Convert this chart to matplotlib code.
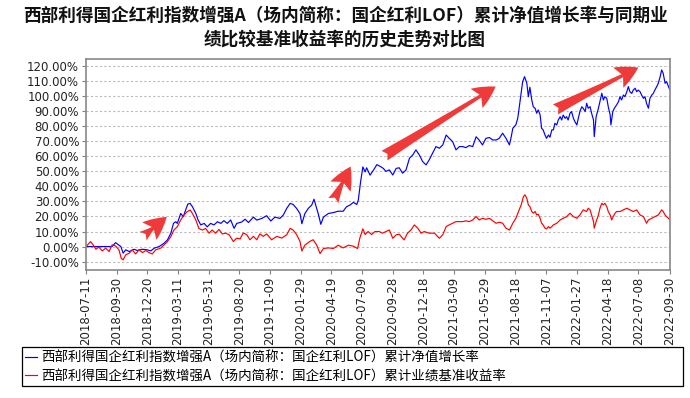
import datetime as dt
import matplotlib
matplotlib.use("Agg")
import matplotlib.pyplot as plt
import matplotlib.dates as mdates
from matplotlib.patches import FancyArrowPatch

plt.rcParams['font.family'] = ['Noto Sans CJK SC', 'DejaVu Sans']

title_1 = "西部利得国企红利指数增强A（场内简称：国企红利LOF）累计净值增长率与同期业"
title_2 = "绩比较基准收益率的历史走势对比图"
nav_label = "西部利得国企红利指数增强A（场内简称：国企红利LOF）累计净值增长率"
bench_label = "西部利得国企红利指数增强A（场内简称：国企红利LOF）累计业绩基准收益率"

start = dt.date(2018, 7, 11)

# days since 2018-07-11, value in %
nav_days = [0, 69, 78, 92, 98, 105, 114, 127, 135, 149, 162, 171, 180, 193, 206, 215, 224, 231, 237, 241,
            250, 257, 263, 269, 275, 281, 290, 296, 303, 312, 320, 329, 338, 347, 356, 364, 373, 382, 391, 398,
            411, 420, 429, 442, 451, 464, 477, 488, 499, 512, 521, 530, 539, 547, 556, 565, 570, 578, 587, 596,
            602, 609, 613, 620, 627, 640, 653, 666, 679, 688, 697, 706, 715, 719, 725, 731, 737, 741, 750, 759,
            768, 779, 785, 792, 801, 810, 819, 827, 836, 845, 854, 863, 871, 880, 889, 898, 906, 915, 924, 933,
            942, 951, 959, 968, 977, 986, 995, 1003, 1012, 1021, 1030, 1038, 1047, 1056, 1065, 1074, 1083, 1091,
            1100, 1109, 1118, 1122, 1127, 1135, 1140, 1146, 1153, 1158, 1164, 1168, 1172, 1177, 1181, 1186, 1190,
            1194, 1199, 1203, 1207, 1212, 1216, 1221, 1225, 1230, 1234, 1238, 1243, 1247, 1252, 1256, 1260, 1265,
            1269, 1273, 1278, 1282, 1287, 1291, 1296, 1300, 1304, 1309, 1313, 1318, 1322, 1326, 1331, 1335, 1340,
            1342, 1347, 1353, 1357, 1362, 1366, 1370, 1375, 1379, 1384, 1386, 1391, 1395, 1401, 1406, 1410, 1414,
            1419, 1423, 1428, 1432, 1436, 1441, 1445, 1450, 1454, 1458, 1463, 1467, 1472, 1476, 1480, 1485, 1489,
            1494, 1498, 1502, 1507, 1511, 1516, 1520, 1524, 1529, 1533, 1538, 1542]
nav_vals = [0, 0, 2.6, 0, -4.4, -2.2, -3.3, -1.8, -2.6, -1.8, -2.2, -2.9, -1.1, 0, 2.2, 4.4, 8.9, 15.4, 16.5, 15.4,
            22, 19.9, 24.3, 28.3, 28.7, 26.5, 22, 17.7, 14.4, 15.4, 13.1, 15.4, 14.4, 16.5, 15.4, 17.2, 15.4, 17.7, 12.1, 15.4,
            16.3, 18.2, 16, 19.6, 17.6, 18.7, 20.5, 17, 19.6, 18.7, 21, 25.4, 28.7, 28, 25.4, 22, 15.2, 22, 25.4, 27.6,
            31.5, 25.4, 22, 14.8, 19.6, 22, 22.6, 23.5, 23.5, 26.5, 27.6, 29.4, 28, 30.9, 43, 53, 49.7, 52.4, 47.5, 50.8,
            54.5, 53, 52, 50, 51, 47.6, 52, 52.4, 48.8, 51, 58.7, 61, 64.3, 61, 56.5, 54.3, 57.6, 62, 66.5, 65.4,
            67.6, 74.2, 72, 69.8, 64.3, 66.5, 66.5, 65.8, 67.2, 66.5, 73, 70.9, 67.6, 72, 72.5, 70.9, 70.9, 72,
            75.4, 72, 67.6, 72, 78.7, 81, 85.3, 96.4, 109.7, 113, 108.6, 99.7, 106, 97.5, 93, 91.9, 88.7,
            90.9, 87.6, 78.7, 77.6, 74.2, 72, 74.2, 72.7, 77.6, 77.6, 82, 80.9, 84.2, 86.4, 84.2, 87.5, 85.3,
            86.4, 84.2, 88.7, 89.8, 85.3, 83.1, 80.9, 85.3, 89.8, 93, 91.9, 89.8, 95.3, 92, 93, 88.7, 84.2,
            73.1, 86.4, 92, 96.4, 102, 97.5, 99.7, 98.6, 93, 87.6, 80.9, 89.8, 92, 94.2, 96.4, 99.7, 97.5,
            100.8, 99.7, 103, 106.4, 103, 101.9, 104.1, 105.3, 103, 104.1, 103, 100.8, 98.6, 99.7, 95.3, 92, 98.6,
            100.8, 101.9, 104.1, 106.4, 108.6, 113, 117.5, 115.2, 108.6, 109.7, 106.4, 104]

bench_days = [0, 12, 19, 26, 34, 43, 52, 61, 69, 78, 87, 93, 98, 105, 114, 122, 131, 140, 149, 158,
              166, 175, 184, 197, 206, 215, 224, 232, 241, 250, 259, 267, 275, 281, 290, 298, 307, 316, 325, 333,
              342, 351, 360, 369, 378, 389, 398, 407, 415, 424, 433, 442, 451, 459, 468, 477, 490, 504, 517, 530,
              539, 547, 556, 565, 570, 578, 591, 600, 609, 618, 627, 640, 653, 666, 679, 693, 706, 717, 723, 731,
              737, 745, 754, 763, 774, 783, 792, 801, 810, 819, 827, 840, 849, 858, 867, 876, 885, 893, 906, 920,
              933, 942, 951, 959, 968, 977, 986, 995, 1003, 1012, 1021, 1030, 1038, 1047, 1056, 1065, 1074, 1083,
              1091, 1100, 1109, 1118, 1127, 1135, 1142, 1149, 1155, 1159, 1164, 1168, 1172, 1177, 1181, 1186, 1190,
              1194, 1199, 1203, 1207, 1212, 1216, 1221, 1225, 1230, 1234, 1243, 1252, 1260, 1269, 1278, 1287, 1296,
              1304, 1313, 1322, 1326, 1331, 1335, 1340, 1342, 1347, 1353, 1357, 1362, 1366, 1370, 1375, 1379, 1384,
              1388, 1392, 1397, 1401, 1410, 1419, 1428, 1436, 1445, 1454, 1463, 1472, 1480, 1485, 1494, 1502, 1511,
              1520, 1524, 1529, 1533, 1538, 1542]
bench_vals = [0, 3.3, 1.1, -1.8, -0.4, -2.9, -1.1, -3.3, 1.1, 0.4, -2.2, -7.8, -8.9, -5.5, -4.4, -2.2, -4.9, -2.2, -4, -2.7,
              -4, -4.9, -2.2, -1.1, 1.1, 3.3, 6.6, 11, 13.1, 17.7, 21, 23.2, 24.3, 22, 17.7, 12, 11, 12, 8.9, 11,
              8.9, 11.4, 8.4, 8.9, 7.8, 3.4, 5.6, 5.1, 9, 8, 4.5, 6.8, 4.5, 8.4, 6.8, 8.4, 4.5, 6.8, 5.6, 7.9,
              12.1, 11, 8, 3.4, -3, 1, 3.4, 4.5, 1, -4.7, -1.3, -0.9, -1.3, 0.9, -0.9, 0.9, 0.2, -1.3, 5.6, 11.8,
              8, 10, 8, 10, 10, 8.9, 10, 11, 5.5, 7.8, 8.2, 4.4, 8.9, 11, 14.4, 12.2, 8.9, 10, 8.9, 8.9,
              5.5, 7.8, 13.3, 14.4, 15.5, 16.6, 16.6, 16.6, 17.1, 16.6, 17.7, 20, 17.7, 18.8, 18.1, 18.8, 17.1, 15.5,
              16.2, 15.5, 12.2, 11, 15.5, 18.8, 23.3, 27.7, 33.2, 34.4, 32.1, 27.7, 26.6, 23.3, 22.2, 23.3, 21,
              21.5, 18.8, 15.5, 14.4, 12.2, 11.7, 13.3, 12.2, 13.3, 14.4, 15.5, 17.7, 18.8, 19.9, 22.2, 19.9, 18.8,
              21, 24.4, 23.3, 25.5, 24.4, 21, 16.6, 12.2, 16.6, 21, 25.5, 28.8, 27.7, 28.8, 26.6, 23.3, 21,
              17.7, 19.9, 22.2, 23.3, 23.3, 24.4, 25.5, 24.4, 23.3, 24.4, 21, 19.9, 15.5, 17.7, 18.8, 19.9, 21,
              24.4, 23.3, 21, 19.9, 18.8, 17.7]

tick_dates = ["2018-07-11", "2018-09-30", "2018-12-20", "2019-03-11", "2019-05-31", "2019-08-20",
              "2019-11-09", "2020-01-29", "2020-04-19", "2020-07-09", "2020-09-28", "2020-12-18",
              "2021-03-09", "2021-05-29", "2021-08-18", "2021-11-07", "2022-01-27", "2022-04-18",
              "2022-07-08", "2022-09-30"]
y_ticks = [-10, 0, 10, 20, 30, 40, 50, 60, 70, 80, 90, 100, 110, 120]

# arrows: (tail day, tail %, head day, head %)
arrows = [(145, 5.7, 219, 20.9), (650, 28.9, 702, 54.9),
          (782, 59.5, 1088, 107.4), (1233, 90.4, 1465, 119.9)]


def to_date(d):
    return start + dt.timedelta(days=d)


fig = plt.figure(figsize=(6.9, 3.98), dpi=100)
ax = fig.add_axes([86 / 690, 1 - 270 / 398, 584 / 690, 211.5 / 398])

ax.plot([to_date(d) for d in nav_days], nav_vals, color='#0000FF', lw=0.85, label=nav_label)
ax.plot([to_date(d) for d in bench_days], bench_vals, color='#FF0000', lw=0.85, label=bench_label)

for d0, v0, d1, v1 in arrows:
    p0 = (mdates.date2num(to_date(d0)), v0)
    p1 = (mdates.date2num(to_date(d1)), v1)
    ax.add_patch(FancyArrowPatch(p0, p1, arrowstyle="fancy,head_length=0.9,head_width=0.9,tail_width=0.45",
                                 mutation_scale=18, color='#F03A3A', lw=0, zorder=5))

ax.set_xlim(to_date(0), to_date(1542))
ax.set_ylim(-15.6, 125.1)
ticks = [dt.date.fromisoformat(s) for s in tick_dates]
ax.set_xticks(ticks)
ax.set_xticklabels(tick_dates, rotation=90, family='DejaVu Sans', fontsize=8.5, color='#222222')
ax.set_yticks(y_ticks)
ax.set_yticklabels([f"{v:.2f}%" for v in y_ticks], family='DejaVu Sans', fontsize=8.5, color='#222222')
ax.tick_params(axis='both', length=3, color='#808080', pad=2)
ax.grid(axis='y', color='#BBBBBB', linestyle=(0, (2, 2)), linewidth=0.8)
ax.set_axisbelow(True)
for s in ax.spines.values():
    s.set_color('#888888')
    s.set_linewidth(1.2)

fig.text(0.5, 1 - 16 / 398, title_1, ha='center', va='center', fontsize=12.7,
         fontweight='bold', color='#111111')
fig.text(0.5, 1 - 40 / 398, title_2, ha='center', va='center', fontsize=12.7,
         fontweight='bold', color='#111111')

leg = ax.legend(loc='upper left', bbox_to_anchor=(22 / 690, 1 - 392 / 398, 661 / 690, 45 / 398),
                bbox_transform=fig.transFigure, mode='expand', fancybox=False, framealpha=1,
                edgecolor='black', fontsize=9.7, handlelength=0.9, handletextpad=0.3,
                borderpad=0.25, labelspacing=0.35, borderaxespad=0)
leg.get_frame().set_linewidth(0.9)

fig.savefig('out.png', dpi=100)
